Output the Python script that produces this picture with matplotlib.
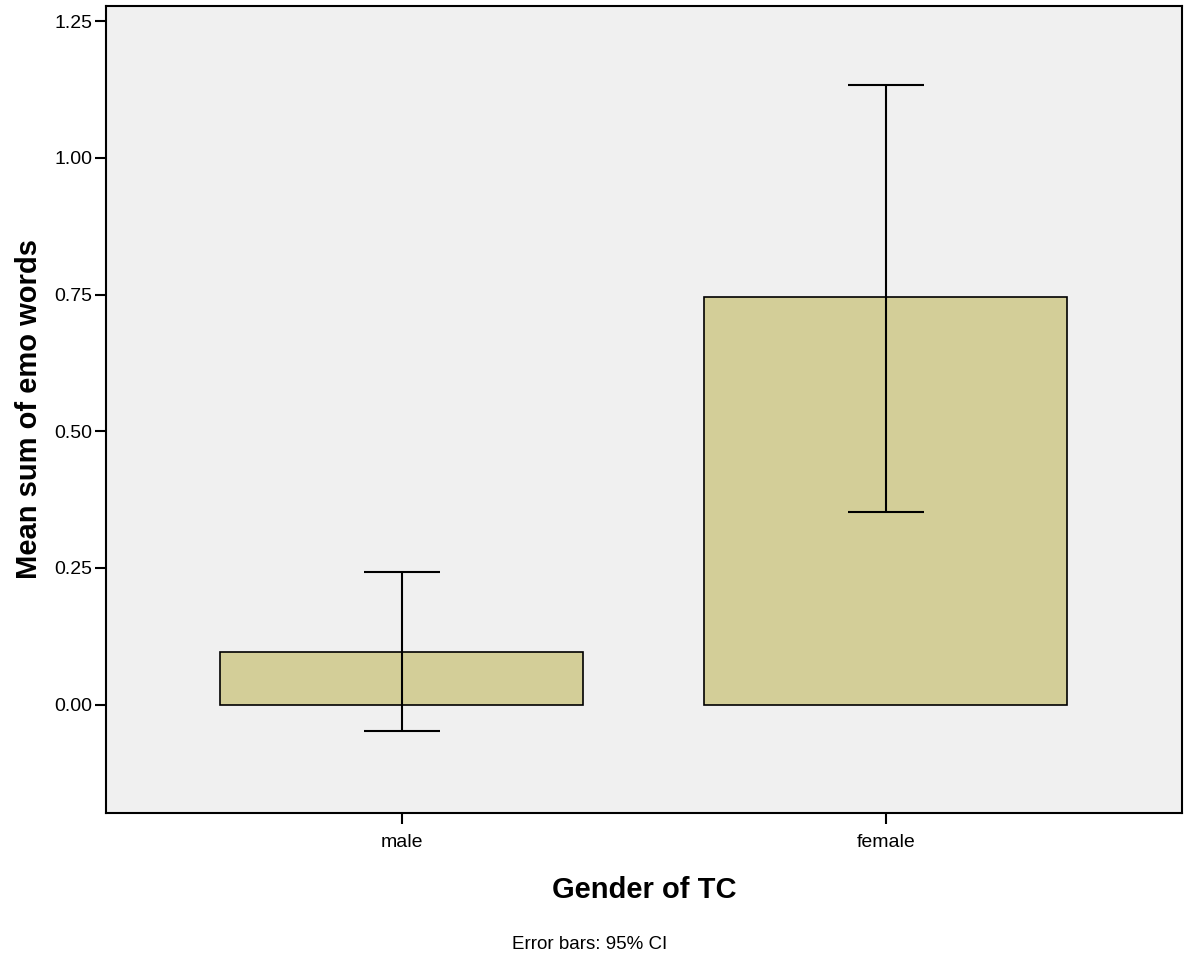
import matplotlib.pyplot as plt
import numpy as np

plt.rcParams['font.family'] = ['Liberation Sans', 'DejaVu Sans']

# Mean emotional word counts by gender with 95% CI bounds
genders = ['male', 'female']
means = [0.097, 0.745]
ci_low = [-0.048, 0.353]
ci_high = [0.243, 1.134]

fig = plt.figure(figsize=(11.89, 9.58), dpi=100)
ax = fig.add_axes([0.0891, 0.1514, 0.9050, 0.8423])
ax.set_facecolor('#F0F0F0')

x = np.arange(len(genders))
ax.bar(x, means, width=0.75, color='#D3CE98', edgecolor='black', linewidth=1.2, zorder=2)

yerr = [np.array(means) - np.array(ci_low), np.array(ci_high) - np.array(means)]
ax.errorbar(x, means, yerr=yerr, fmt='none', ecolor='black', elinewidth=1.5,
            capsize=27.5, capthick=1.5, zorder=3)

ax.set_xlim(-0.6116, 1.6116)
ax.set_ylim(-0.198, 1.2775)
ax.set_xticks(x)
ax.set_xticklabels(genders)
ax.set_yticks([0.0, 0.25, 0.5, 0.75, 1.0, 1.25])
ax.set_yticklabels(['0.00', '0.25', '0.50', '0.75', '1.00', '1.25'])
ax.tick_params(axis='both', direction='out', length=8, width=1.5, labelsize=14, pad=2)
ax.tick_params(axis='x', pad=7)

for s in ax.spines.values():
    s.set_linewidth(1.5)

ax.set_xlabel('Gender of TC', fontsize=21, fontweight='bold', labelpad=18)
ax.set_ylabel('Mean sum of emo words', fontsize=21, fontweight='bold', labelpad=8)

fig.text(0.496, 0.005, 'Error bars: 95% CI', fontsize=13.5, ha='center', va='bottom')

fig.savefig('out.png', dpi=100, facecolor='white')
